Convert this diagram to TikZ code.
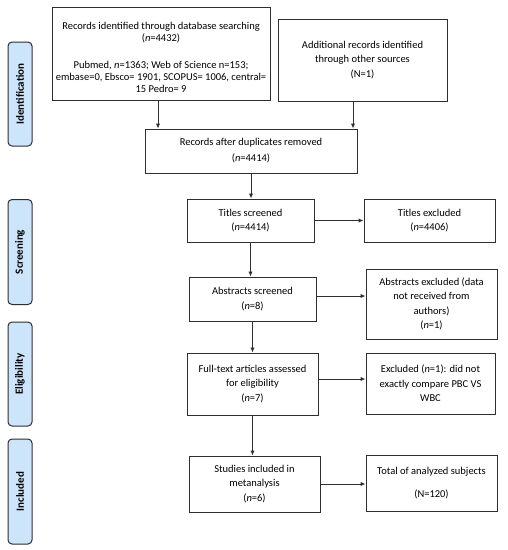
\documentclass[tikz,border=0pt]{standalone}
\usepackage{fontspec}
\setmainfont{Carlito}
\usetikzlibrary{arrows.meta}
\definecolor{phaseblue}{HTML}{CCE5FA}
\definecolor{linegray}{HTML}{2E2E2E}
\begin{document}
\begin{tikzpicture}[x=1pt,y=-1pt,
  box/.style={draw=linegray, line width=1pt, align=center, inner sep=2pt,
    font=\fontsize{10.5}{14.5}\selectfont},
  phase/.style={draw=linegray, line width=1pt, rounded corners=4pt, fill=phaseblue,
    minimum height=24pt, inner sep=0pt, rotate=90,
    font=\fontsize{11}{13}\selectfont\bfseries},
  arr/.style={draw=linegray, line width=1pt, -{Latex[length=5pt,width=4.5pt]}}]
\useasboundingbox (0,0) rectangle (508,550);

% phase labels
\node[phase, minimum width=104pt] (pid) at (20,94) {Identification};
\node[phase, minimum width=105pt] (psc) at (20,252) {Screening};
\node[phase, minimum width=104pt] (pel) at (20,374) {Eligibility};
\node[phase, minimum width=105pt] (pin) at (20,491.5) {Included};

% boxes
\node[box, minimum width=218pt, minimum height=93pt,
  font=\fontsize{10.5}{12}\selectfont] (b1) at (161,53.5)
  {\rule{0pt}{15pt}Records identified through database searching\\
   (\textit{n}=4432)\\[15pt]
   Pubmed, \textit{n}=1363; Web of Science n=153;\\
   embase=0, Ebsco= 1901, SCOPUS= 1006, central=\\
   15 Pedro= 9};
\node[box, minimum width=169pt, minimum height=82pt] (b2) at (362.5,60)
  {Additional records identified\\ through other sources\\ (N=1)};
\node[box, minimum width=212pt, minimum height=44pt,
  font=\fontsize{10.5}{16}\selectfont] (b3) at (251,151)
  {Records after duplicates removed\\ (\textit{n}=4414)};
\node[box, minimum width=127pt, minimum height=43pt] (b4) at (250.5,220.5)
  {Titles screened\\ (\textit{n}=4414)};
\node[box, minimum width=131pt, minimum height=43pt] (b5) at (429.5,220.5)
  {Titles excluded\\ (\textit{n}=4406)};
\node[box, minimum width=127pt, minimum height=44pt] (b6) at (252.5,299)
  {Abstracts screened\\ (\textit{n}=8)};
\node[box, minimum width=131pt, minimum height=70pt] (b7) at (431.5,304)
  {Abstracts excluded (data\\ not received from\\ authors)\\ (\textit{n}=1)};
\node[box, minimum width=131pt, minimum height=62pt] (b8) at (252.5,384)
  {Full-text articles assessed\\ for eligibility\\ (\textit{n}=7)};
\node[box, minimum width=129pt, minimum height=61pt] (b9) at (430.5,383.5)
  {Excluded (\textit{n}=1): did not\\ exactly compare PBC VS\\ WBC};
\node[box, minimum width=131pt, minimum height=56pt] (b10) at (254.5,484)
  {Studies included in\\ metanalysis\\ (\textit{n}=6)};
\node[box, minimum width=131pt, minimum height=56pt] (b11) at (431.5,483)
  {Total of analyzed subjects\\[8pt] (N=120)};

% arrows
\draw[arr] ([xshift=-3pt]b1.south) -- ([xshift=-3pt]b1.south |- b3.north);
\draw[arr] ([xshift=-9.5pt]b2.south) -- ([xshift=-9.5pt]b2.south |- b3.north);
\draw[arr] (b3.south) -- (b3.south |- b4.north);
\draw[arr] (b4.east) -- (b4.east -| b5.west);
\draw[arr] (b4.south) -- (b4.south |- b6.north);
\draw[arr] ([yshift=3pt]b6.east) -- ([yshift=3pt]b6.east -| b7.west);
\draw[arr] (b6.south) -- (b6.south |- b8.north);
\draw[arr] ([yshift=5pt]b8.east) -- ([yshift=5pt]b8.east -| b9.west);
\draw[arr] (b8.south) -- (b8.south |- b10.north);
\draw[arr] (b10.east) -- (b10.east -| b11.west);
\end{tikzpicture}
\end{document}
